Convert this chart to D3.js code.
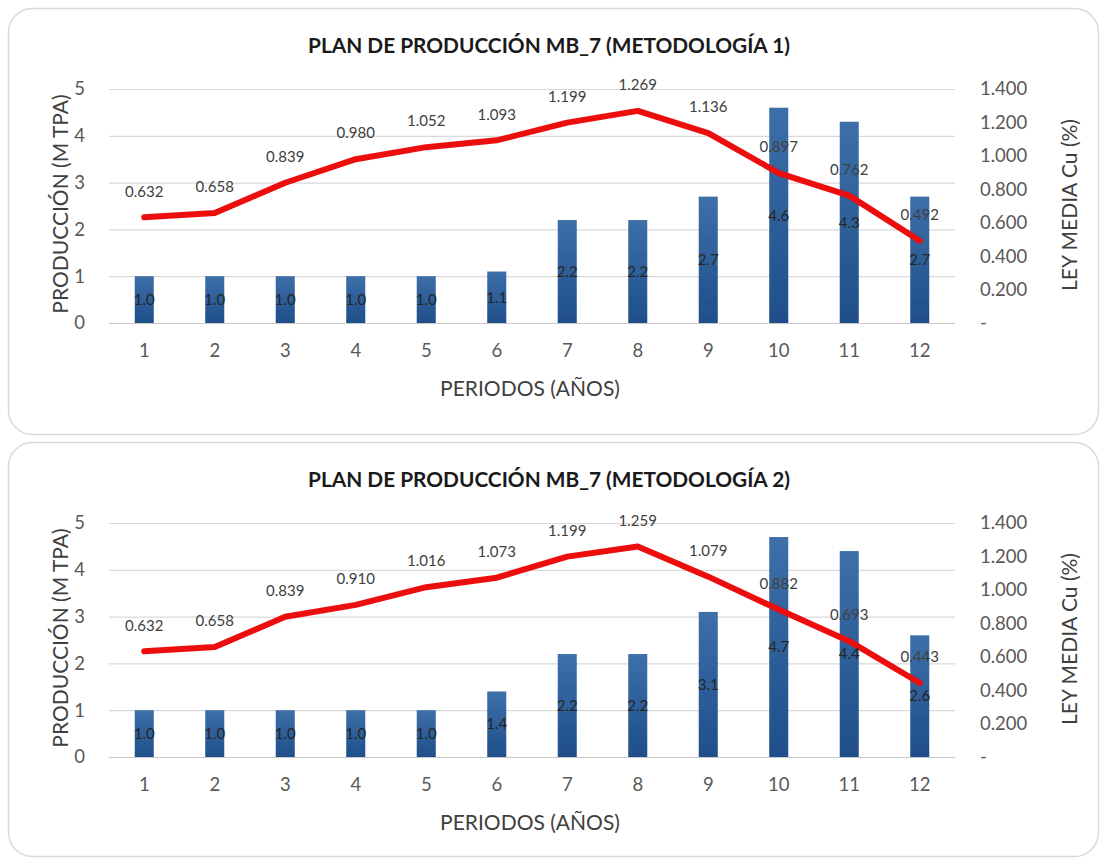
<!DOCTYPE html>
<html>
<head>
<meta charset="utf-8">
<script src="https://cdn.jsdelivr.net/npm/d3@7"></script>
<style>
  html, body { margin: 0; padding: 0; background: #ffffff; }
  svg { display: block; }
  text { font-family: Lato, "Open Sans", sans-serif; }
</style>
</head>
<body>
<svg id="chart" width="1102" height="861"></svg>
<script>
// Periods (years)
const periods = [1, 2, 3, 4, 5, 6, 7, 8, 9, 10, 11, 12];

const titles = ["PLAN DE PRODUCCIÓN MB_7 (METODOLOGÍA 1)", "PLAN DE PRODUCCIÓN MB_7 (METODOLOGÍA 2)"];

// Methodology 1
const produccion1 = [1.0, 1.0, 1.0, 1.0, 1.0, 1.1, 2.2, 2.2, 2.7, 4.6, 4.3, 2.7];
const ley1 = [0.632, 0.658, 0.839, 0.980, 1.052, 1.093, 1.199, 1.269, 1.136, 0.897, 0.762, 0.492];

// Methodology 2
const produccion2 = [1.0, 1.0, 1.0, 1.0, 1.0, 1.4, 2.2, 2.2, 3.1, 4.7, 4.4, 2.6];
const ley2 = [0.632, 0.658, 0.839, 0.910, 1.016, 1.073, 1.199, 1.259, 1.079, 0.882, 0.693, 0.443];

// Axis ticks
const leftTicks = [0, 1, 2, 3, 4, 5];
const rightTicks = [0, 0.2, 0.4, 0.6, 0.8, 1.0, 1.2, 1.4];

const svg = d3.select("#chart");

const defs = svg.append("defs");
const grad = defs.append("linearGradient")
  .attr("id", "barGrad").attr("x1", 0).attr("y1", 0).attr("x2", 0).attr("y2", 1);
grad.append("stop").attr("offset", "0%").attr("stop-color", "#3d6fa9");
grad.append("stop").attr("offset", "100%").attr("stop-color", "#1f4f8a");

const glow = defs.append("filter").attr("id", "barGlow")
  .attr("x", "-40%").attr("y", "-10%").attr("width", "180%").attr("height", "120%");
glow.append("feGaussianBlur").attr("in", "SourceGraphic").attr("stdDeviation", 0.6);

const lineSoft = defs.append("filter").attr("id", "lineSoft")
  .attr("x", "-5%").attr("y", "-20%").attr("width", "110%").attr("height", "140%");
lineSoft.append("feGaussianBlur").attr("in", "SourceGraphic").attr("stdDeviation", 0.7);

const fmtRight = v => v === 0 ? "-" : d3.format(".3f")(v);

function drawPanel(oy, panelH, title, prod, ley) {
  const g = svg.append("g").attr("transform", `translate(0,${oy})`);

  // Panel frame
  g.append("rect")
    .attr("x", 8.5).attr("y", 8.5)
    .attr("width", 1090).attr("height", panelH)
    .attr("rx", 24).attr("ry", 24)
    .attr("fill", "#ffffff").attr("stroke", "#d9d9d9").attr("stroke-width", 1.5);

  const left = 109, right = 955, top = 89, bottom = 323;

  const x = d3.scaleBand().domain(periods).range([left, right]).paddingInner(0.73).paddingOuter(0.365);
  const yL = d3.scaleLinear().domain([0, 5]).range([bottom, top]);
  const yR = d3.scaleLinear().domain([0, 1.4]).range([bottom, top]);

  // Title
  g.append("text")
    .attr("x", 549).attr("y", 46).attr("dy", "0.35em")
    .attr("text-anchor", "middle")
    .attr("font-size", 20).attr("font-weight", 700)
    .attr("fill", "#1a1a1a")
    .attr("textLength", 482).attr("lengthAdjust", "spacingAndGlyphs")
    .text(title);

  // Horizontal gridlines
  g.append("g")
    .attr("transform", `translate(${left},0)`)
    .call(d3.axisLeft(yL).tickValues(leftTicks).tickSize(-(right - left)).tickFormat(""))
    .call(a => a.select(".domain").remove())
    .call(a => a.selectAll("line").attr("stroke", d => d === 0 ? "#c8c8c8" : "#d9d9d9").attr("stroke-width", 1.2));

  const tickStyle = a => a.selectAll("text")
    .attr("font-size", 18.5).attr("fill", "#595959").attr("font-family", "Lato, sans-serif");

  // Left axis labels
  g.append("g")
    .attr("transform", `translate(85,0)`)
    .call(d3.axisLeft(yL).tickValues(leftTicks).tickSize(0).tickPadding(0).tickFormat(d3.format("d")))
    .call(a => a.select(".domain").remove())
    .call(tickStyle);

  // Right axis labels
  g.append("g")
    .attr("transform", `translate(980,0)`)
    .call(d3.axisRight(yR).tickValues(rightTicks).tickSize(0).tickPadding(0).tickFormat(fmtRight))
    .call(a => a.select(".domain").remove())
    .call(tickStyle);

  // Bottom axis labels
  g.append("g")
    .attr("transform", `translate(0,${bottom})`)
    .call(d3.axisBottom(x).tickSize(0).tickPadding(21))
    .call(a => a.select(".domain").remove())
    .call(tickStyle);

  // Axis titles
  g.append("text")
    .attr("transform", `translate(61,${(top + bottom) / 2 - 2}) rotate(-90)`)
    .attr("text-anchor", "middle").attr("dy", "0.35em")
    .attr("font-size", 21).attr("fill", "#404040")
    .text("PRODUCCIÓN (M TPA)");

  g.append("text")
    .attr("transform", `translate(1070,${(top + bottom) / 2 - 1}) rotate(-90)`)
    .attr("text-anchor", "middle").attr("dy", "0.35em")
    .attr("font-size", 21).attr("fill", "#404040")
    .text("LEY MEDIA Cu (%)");

  g.append("text")
    .attr("x", 530).attr("y", 389).attr("dy", "0.35em")
    .attr("text-anchor", "middle")
    .attr("font-size", 21).attr("fill", "#404040")
    .text("PERIODOS (AÑOS)");

  // Production bars
  g.append("g").selectAll("rect")
    .data(prod)
    .join("rect")
    .attr("x", (d, i) => x(periods[i]))
    .attr("y", d => yL(d))
    .attr("width", x.bandwidth())
    .attr("height", d => yL(0) - yL(d))
    .attr("fill", "url(#barGrad)")
    .attr("filter", "url(#barGlow)");

  // Grade line
  const line = d3.line()
    .x((d, i) => x(periods[i]) + x.bandwidth() / 2)
    .y(d => yR(d));

  g.append("path")
    .datum(ley)
    .attr("d", line)
    .attr("fill", "none")
    .attr("stroke", "#ec0c0c")
    .attr("stroke-width", 6)
    .attr("stroke-linejoin", "round")
    .attr("stroke-linecap", "round")
    .attr("filter", "url(#lineSoft)");

  // Bar value labels
  g.append("g").selectAll("text")
    .data(prod)
    .join("text")
    .attr("x", (d, i) => x(periods[i]) + x.bandwidth() / 2)
    .attr("y", d => (yL(d) + yL(0)) / 2)
    .attr("dy", "0.35em")
    .attr("text-anchor", "middle")
    .attr("font-size", 15).attr("fill", "#262626")
    .text(d => d3.format(".1f")(d));

  // Grade value labels
  g.append("g").selectAll("text")
    .data(ley)
    .join("text")
    .attr("x", (d, i) => x(periods[i]) + x.bandwidth() / 2)
    .attr("y", d => yR(d) - 26)
    .attr("dy", "0.35em")
    .attr("text-anchor", "middle")
    .attr("font-size", 15).attr("fill", "#404040")
    .text(d => d3.format(".3f")(d));
}

drawPanel(0, 426, titles[0], produccion1, ley1);
drawPanel(434, 414, titles[1], produccion2, ley2);
</script>
</body>
</html>
